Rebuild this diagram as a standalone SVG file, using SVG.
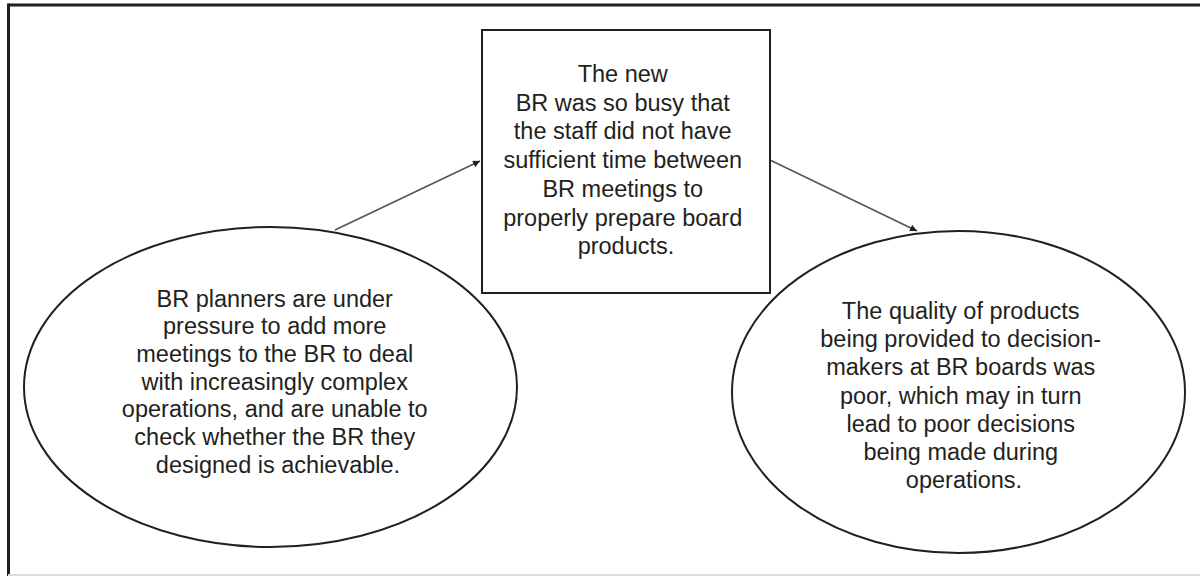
<svg xmlns="http://www.w3.org/2000/svg" width="1200" height="576" viewBox="0 0 1200 576">
<style>
.frame{stroke:#231f20;stroke-width:3;fill:none}
.node{fill:#fff;stroke:#231f20;stroke-width:2}
.lbl{font-family:"Liberation Sans",Arial,sans-serif;font-size:23.5px;fill:#231f20;text-anchor:middle}
.conn{stroke:#555;stroke-width:1.6;fill:none}
</style>
<defs>
<marker id="arr" viewBox="0 0 10 10" refX="10" refY="5" markerWidth="7" markerHeight="7" orient="auto" markerUnits="userSpaceOnUse">
<path d="M0,0 L10,5 L0,10 z" fill="#231f20"/>
</marker>
</defs>
<rect width="1200" height="576" fill="#fff"/>
<g id="frame">
<line class="frame" x1="8.5" y1="5" x2="1200" y2="5"/>
<line class="frame" x1="8.5" y1="3.5" x2="8.5" y2="576"/>
<line x1="8" y1="575" x2="1200" y2="575" stroke="#ddd" stroke-width="2"/>
</g>
<g id="connectors">
<line class="conn" x1="335" y1="230" x2="480" y2="161" marker-end="url(#arr)"/>
<line class="conn" x1="770" y1="160" x2="917" y2="231" marker-end="url(#arr)"/>
</g>
<g id="node-center">
<rect class="node" x="482" y="30" width="288" height="263"/>
<text class="lbl">
<tspan x="626" y="82">The new</tspan>
<tspan x="626" y="110.7">BR was so busy that</tspan>
<tspan x="626" y="139.4">the staff did not have</tspan>
<tspan x="626" y="168.1">sufficient time between</tspan>
<tspan x="626" y="196.8">BR meetings to</tspan>
<tspan x="626" y="225.5">properly prepare board</tspan>
<tspan x="626" y="254.2">products.</tspan>
</text>
</g>
<g id="node-left">
<ellipse class="node" cx="270.5" cy="387" rx="246.5" ry="160"/>
<text class="lbl">
<tspan x="278" y="306.5">BR planners are under</tspan>
<tspan x="278" y="334.2">pressure to add more</tspan>
<tspan x="278" y="361.9">meetings to the BR to deal</tspan>
<tspan x="278" y="389.6">with increasingly complex</tspan>
<tspan x="278" y="417.3">operations, and are unable to</tspan>
<tspan x="278" y="445">check whether the BR they</tspan>
<tspan x="278" y="472.7">designed is achievable.</tspan>
</text>
</g>
<g id="node-right">
<ellipse class="node" cx="958.5" cy="392" rx="226.5" ry="161"/>
<text class="lbl">
<tspan x="964" y="319">The quality of products</tspan>
<tspan x="964" y="347.2">being provided to decision-</tspan>
<tspan x="964" y="375.4">makers at BR boards was</tspan>
<tspan x="964" y="403.6">poor, which may in turn</tspan>
<tspan x="964" y="431.8">lead to poor decisions</tspan>
<tspan x="964" y="460">being made during</tspan>
<tspan x="964" y="488.3">operations.</tspan>
</text>
</g>
</svg>
